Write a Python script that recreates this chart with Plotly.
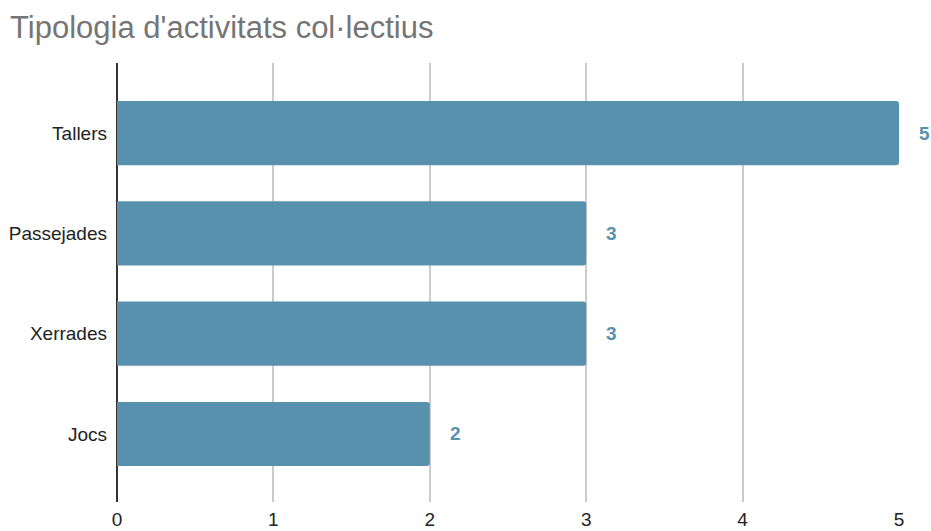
import plotly.graph_objects as go

# Activity types and number of sessions of each
categories = ["Tallers", "Passejades", "Xerrades", "Jocs"]
values = [5, 3, 3, 2]
x_ticks = [0, 1, 2, 3, 4, 5]

bar_color = "#5891ad"
font_family = "Liberation Sans, Arial, sans-serif"

# Plot bottom-up so the first category sits on top
ypos = list(range(len(categories)))[::-1]

fig = go.Figure()
fig.add_trace(go.Bar(
    x=values,
    y=ypos,
    orientation="h",
    marker=dict(color=bar_color, line=dict(width=0)),
    width=0.64,
    hoverinfo="x+y",
))

# Value labels to the right of each bar
for v, y in zip(values, ypos):
    fig.add_annotation(
        x=v, y=y, xref="x", yref="y",
        text=f"<b>{v}</b>", showarrow=False,
        xanchor="left", xshift=18,
        font=dict(size=19, color=bar_color, family=font_family),
    )

fig.update_layout(
    width=931, height=531,
    margin=dict(l=117, r=32, t=63, b=29, autoexpand=False),
    paper_bgcolor="white",
    plot_bgcolor="white",
    barcornerradius=3,
    showlegend=False,
    title=dict(
        text="Tipologia d'activitats col·lectius",
        x=10 / 931, xref="container", xanchor="left",
        y=1 - 27 / 531, yref="container", yanchor="middle",
        font=dict(size=31, color="#757575", family=font_family),
    ),
    xaxis=dict(
        range=[0, 5],
        tickvals=x_ticks,
        ticktext=[str(t) for t in x_ticks],
        showgrid=True, gridcolor="#cccccc", gridwidth=1.5,
        zeroline=True, zerolinecolor="#333333", zerolinewidth=1.5,
        showline=False, ticks="",
        tickfont=dict(size=19, color="#222222", family=font_family),
        ticklabelstandoff=4,
        automargin=False,
        fixedrange=True,
    ),
    yaxis=dict(
        range=[-0.678, 3.698],
        tickvals=ypos,
        ticktext=categories,
        showgrid=False, zeroline=False, showline=False, ticks="",
        tickfont=dict(size=19, color="#222222", family=font_family),
        ticklabelstandoff=9,
        automargin=False,
        fixedrange=True,
    ),
)

fig.write_html("out.html")
